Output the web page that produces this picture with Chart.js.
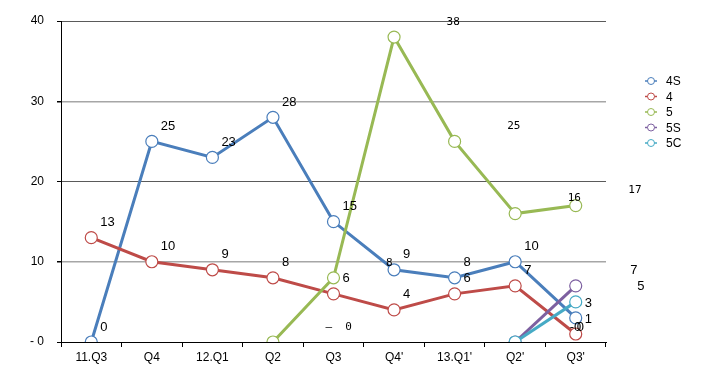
<!DOCTYPE html>
<html>
<head>
<meta charset="utf-8">
<script src="https://cdn.jsdelivr.net/npm/chart.js@4.4.1/dist/chart.umd.min.js"></script>
<style>
  html, body { margin: 0; padding: 0; background: #fff; }
  #wrap { width: 720px; height: 374px; }
</style>
</head>
<body>
<div id="wrap"><canvas id="lineChart" width="720" height="374"></canvas></div>
<script>
// categories + values
const quarters = ['11.Q3', 'Q4', '12.Q1', 'Q2', 'Q3', "Q4'", "13.Q1'", "Q2'", "Q3'"];
const yTicks = [0, 10, 20, 30, 40];

const series4S = [0, 25, 23, 28, 15, 9, 8, 10, 3];
const series4 = [13, 10, 9, 8, 6, 4, 6, 7, 1];
const series5 = [null, null, null, 0, 8, 38, 25, 16, 17];
const series5S = [null, null, null, null, null, null, null, 0, 7];
const series5C = [null, null, null, null, null, null, null, 0, 5];

// value labels as printed on the original (the new models' labels sit one quarter to the right)
const labels4S = ['0', '25', '23', '28', '15', '9', '8', '10', '3'];
const labels4 = ['13', '10', '9', '8', '6', '4', '6', '7', '1'];
const labels5 = [null, null, null, '–  0', '8', '38', '25', '16', '17'];
const labels5S = [null, null, null, null, null, null, null, '-0', '7'];
const labels5C = [null, null, null, null, null, null, null, '0', '5'];

const FONT = '"Liberation Sans", Arial, sans-serif';

function makeSeries(name, data, texts, color, shift, dx, font) {
    return {
        label: name,
        data: data,
        valueText: texts,
        labelShift: shift,
        labelDx: dx,
        labelFont: font,
        borderColor: color,
        backgroundColor: color,
        borderWidth: 3,
        pointRadius: 6,
        pointHoverRadius: 6,
        pointBackgroundColor: '#ffffff',
        pointBorderColor: color,
        pointBorderWidth: 1.2,
        tension: 0,
        spanGaps: false
    };
}

const datasets = [
    makeSeries('4S', series4S, labels4S, '#4A7EBB', 0, 9, '13px ' + FONT),
    makeSeries('4', series4, labels4, '#BE4B48', 0, 9, '13px ' + FONT),
    makeSeries('5', series5, labels5, '#98B954', 1, -8, '11px "DejaVu Sans Mono", monospace'),
    makeSeries('5S', series5S, labels5S, '#7D60A0', 1, -6, '13px ' + FONT),
    makeSeries('5C', series5C, labels5C, '#46AAC5', 1, 1, '13px ' + FONT)
];
// later series drawn on top, like the original
datasets.forEach((d, i) => { d.order = datasets.length - i; });

const valueLabels = {
    id: 'valueLabels',
    afterDatasetsDraw(chart) {
        const { ctx } = chart;
        const x = chart.scales.x, y = chart.scales.y;
        ctx.save();
        ctx.textBaseline = 'middle';
        ctx.textAlign = 'left';
        ctx.fillStyle = '#000';
        chart.data.datasets.forEach(ds => {
            ctx.font = ds.labelFont;
            ds.data.forEach((v, i) => {
                const txt = ds.valueText[i];
                if (v === null || !txt) return;
                const px = x.getPixelForValue(i + ds.labelShift) + ds.labelDx;
                const py = y.getPixelForValue(v) - 15;
                ctx.fillText(txt, px, py);
            });
        });
        ctx.restore();
    }
};

const sideLegend = {
    id: 'sideLegend',
    afterDraw(chart) {
        const { ctx, chartArea } = chart;
        const mx = chartArea.right + 45;
        ctx.save();
        ctx.font = '12px ' + FONT;
        ctx.textBaseline = 'middle';
        ctx.textAlign = 'left';
        chart.data.datasets.forEach((ds, i) => {
            const my = chartArea.top + 60 + i * 15.5;
            ctx.strokeStyle = ds.borderColor;
            ctx.lineWidth = 1.5;
            ctx.beginPath();
            ctx.moveTo(mx - 6, my);
            ctx.lineTo(mx + 6, my);
            ctx.stroke();
            ctx.beginPath();
            ctx.arc(mx, my, 3.5, 0, Math.PI * 2);
            ctx.fillStyle = '#fff';
            ctx.fill();
            ctx.lineWidth = 1;
            ctx.stroke();
            ctx.fillStyle = '#000';
            ctx.fillText(ds.label, mx + 15, my + 1);
        });
        ctx.restore();
    }
};

new Chart(document.getElementById('lineChart').getContext('2d'), {
    type: 'line',
    data: { labels: quarters, datasets: datasets },
    plugins: [valueLabels, sideLegend],
    options: {
        responsive: false,
        animation: false,
        devicePixelRatio: 1,
        layout: { padding: { top: 21, right: 114, bottom: 0, left: 0 } },
        plugins: {
            legend: { display: false },
            tooltip: { enabled: false }
        },
        scales: {
            x: {
                offset: true,
                grid: {
                    offset: true,
                    drawOnChartArea: false,
                    drawTicks: true,
                    tickLength: 5,
                    tickColor: '#000'
                },
                border: { display: true, color: '#000', width: 1 },
                ticks: { color: '#000', font: { family: FONT, size: 12 }, padding: 3, maxRotation: 0 },
                afterFit(s) { s.height = 32; }
            },
            y: {
                min: yTicks[0],
                max: yTicks[yTicks.length - 1],
                afterBuildTicks(s) { s.ticks = yTicks.map(v => ({ value: v })); },
                grid: {
                    color: c => (c.tick && (c.tick.value === 40 || c.tick.value === 20)) ? '#5a5a5a' : (c.tick && c.tick.value === 0 ? '#000' : '#a6a6a6'),
                    lineWidth: c => (c.tick && (c.tick.value === 30 || c.tick.value === 10)) ? 1.5 : 1,
                    tickLength: 4,
                    tickColor: '#000'
                },
                border: { display: true, color: '#000', width: 1 },
                ticks: {
                    color: '#000',
                    font: { family: FONT, size: 12 },
                    padding: 13,
                    callback: v => v === 0 ? '- 0' : v
                },
                afterFit(s) { s.width = 61; }
            }
        }
    }
});
</script>
</body>
</html>
